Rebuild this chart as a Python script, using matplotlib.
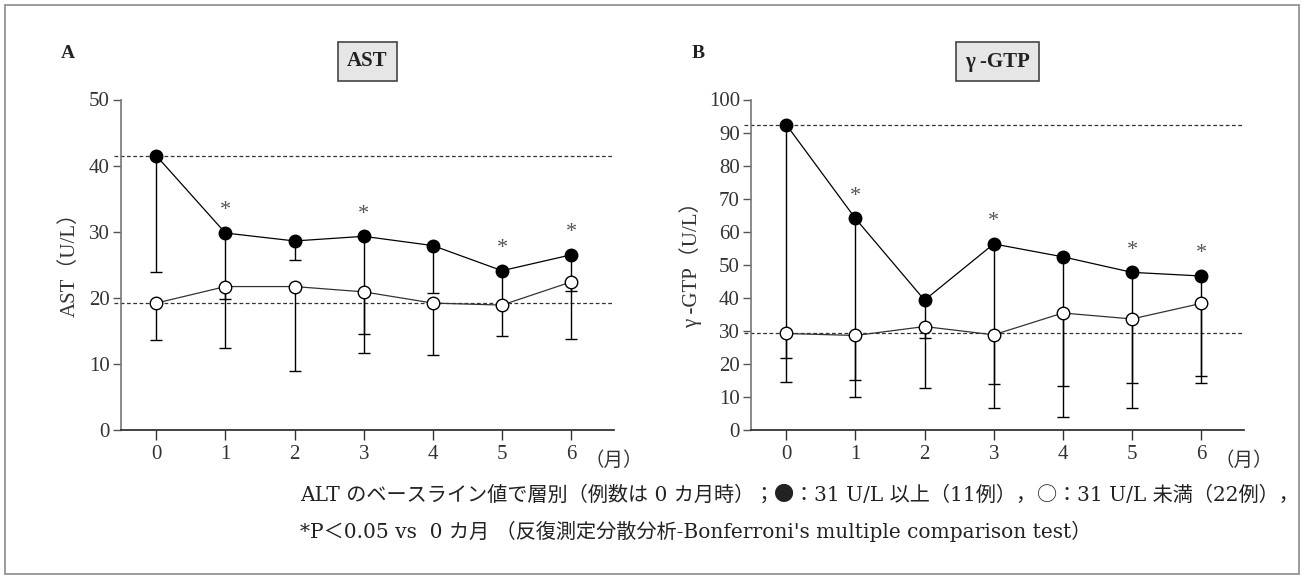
import numpy as np
import matplotlib
matplotlib.use("Agg")
import matplotlib.pyplot as plt
from matplotlib.patches import Rectangle

plt.rcParams['font.family'] = ['Liberation Serif', 'Noto Sans CJK JP']

months = [0, 1, 2, 3, 4, 5, 6]

# AST (U/L): mean and SD for ALT >= 31 (filled) and ALT < 31 (open)
ast_high = [41.5, 29.8, 28.6, 29.3, 27.9, 24.1, 26.5]
ast_high_sd = [17.6, 10.0, 2.9, 14.8, 7.1, 5.0, 5.4]
ast_low = [19.2, 21.7, 21.7, 20.9, 19.2, 18.9, 22.4]
ast_low_sd = [5.6, 9.3, 12.7, 9.2, 7.9, 4.7, 8.7]

# gamma-GTP (U/L)
gtp_high = [92.4, 64.0, 39.3, 56.3, 52.4, 47.7, 46.6]
gtp_high_sd = [70.7, 48.9, 11.4, 42.4, 39.1, 33.6, 30.2]
gtp_low = [29.2, 28.6, 31.3, 28.8, 35.4, 33.6, 38.3]
gtp_low_sd = [14.6, 18.5, 18.7, 22.2, 31.4, 27.0, 24.2]

# months with P < 0.05 vs month 0
sig_months = [1, 3, 5, 6]

W, H = 1304, 575
fig = plt.figure(figsize=(W / 100, H / 100), dpi=100)

# outer frame
fig.patches.append(Rectangle((5 / W, 1 / H), 1294 / W, 569 / H, transform=fig.transFigure,
                             fill=False, edgecolor='#8a8a8a', linewidth=1.2))


def panel(left_px, high, high_sd, low, low_sd, ymax, ystep, ylabel, label_x, title, letter):
    ax = fig.add_axes([left_px / W, 145 / H, 493 / W, 330.5 / H])
    ax.set_xlim(-0.51, 6.62)
    ax.set_ylim(0, ymax)
    ax.set_xticks(months)
    ax.set_yticks(np.arange(0, ymax + 1, ystep))
    for s in ['top', 'right']:
        ax.spines[s].set_visible(False)
    ax.spines['left'].set_color('#777777')
    ax.spines['bottom'].set_color('#222222')
    ax.spines['left'].set_linewidth(1.2)
    ax.spines['bottom'].set_linewidth(1.2)
    ax.tick_params(axis='y', direction='out', length=6, width=1, color='#555555',
                   labelsize=15, labelcolor='#333333', pad=2)
    ax.tick_params(axis='x', direction='out', length=7, width=1, color='#333333',
                   labelsize=15, labelcolor='#333333', pad=4)

    # baseline reference lines
    for base in (high[0], low[0]):
        ax.axhline(base, xmin=-0.015, xmax=1.0, color='#333333', lw=0.9,
                   ls=(0, (3, 2)), clip_on=False, zorder=1)

    zeros = np.zeros(len(months))
    ax.errorbar(months, low, yerr=[low_sd, zeros], fmt='none', ecolor='black',
                elinewidth=1, capsize=4, capthick=1, zorder=2)
    ax.errorbar(months, high, yerr=[high_sd, zeros], fmt='none', ecolor='black',
                elinewidth=1, capsize=4, capthick=1, zorder=2)
    ax.plot(months, low, '-', color='#333333', lw=0.9, zorder=3)
    ax.plot(months, high, '-', color='black', lw=0.9, zorder=3)
    ax.plot(months, low, 'o', ms=9, mfc='white', mec='black', mew=1, zorder=4)
    ax.plot(months, high, 'o', ms=9, mfc='black', mec='black', mew=1, zorder=4)

    for m in sig_months:
        ax.annotate('*', (m, high[m]), xytext=(0, 16), textcoords='offset points',
                    ha='center', va='center', fontsize=16, color='#555555')

    ax.annotate('（月）', (6.2, 0), xycoords=('data', 'axes fraction'),
                xytext=(0, -22), textcoords='offset points', ha='left', va='center',
                fontsize=14, color='#333333')

    ax.set_ylabel(ylabel, fontsize=15, color='#333333')
    ax.yaxis.set_label_coords(label_x, 0.515)

    ax.text(0.5, 1 + 38 / 330.5, title, transform=ax.transAxes, ha='center', va='center',
            fontsize=15, fontweight='bold', color='#222222',
            bbox=dict(boxstyle='square,pad=0.45', facecolor='#e6e6e6', edgecolor='#444444', lw=1.2))
    fig.text((left_px - 53) / W, 1 - 54 / H, letter, ha='center', va='center',
             fontsize=14, fontweight='bold', color='#222222')
    return ax


panel(121, ast_high, ast_high_sd, ast_low, ast_low_sd, 50, 10, 'AST（U/L）', -0.083, 'AST', 'A')
panel(751, gtp_high, gtp_high_sd, gtp_low, gtp_low_sd, 100, 10, 'γ -GTP（U/L）', -0.1, 'γ -GTP', 'B')

# footnote: the circle symbols come from the CJK font so they are full size
renderer = fig.canvas.get_renderer()
serif = ['DejaVu Serif', 'Noto Sans CJK JP']
cjk = ['Noto Sans CJK JP']


def text_run(x_px, y_px, segments, size):
    x = x_px / W
    for txt, fam in segments:
        t = fig.text(x, 1 - y_px / H, txt, family=fam, ha='left', va='center',
                     fontsize=size, color='#222222')
        x += t.get_window_extent(renderer).width / W


note_size = 14.5
text_run(300, 495, [('ALT のベースライン値で層別（例数は 0 カ月時）；', serif), ('●', cjk),
                    ('：31 U/L 以上（11例），', serif), ('○', cjk),
                    ('：31 U/L 未満（22例），', serif)], note_size)
text_run(300, 531, [("*P＜0.05 vs  0 カ月 （反復測定分散分析-Bonferroni's multiple comparison test）", serif)],
         note_size)

fig.savefig('out.png', dpi=100)
